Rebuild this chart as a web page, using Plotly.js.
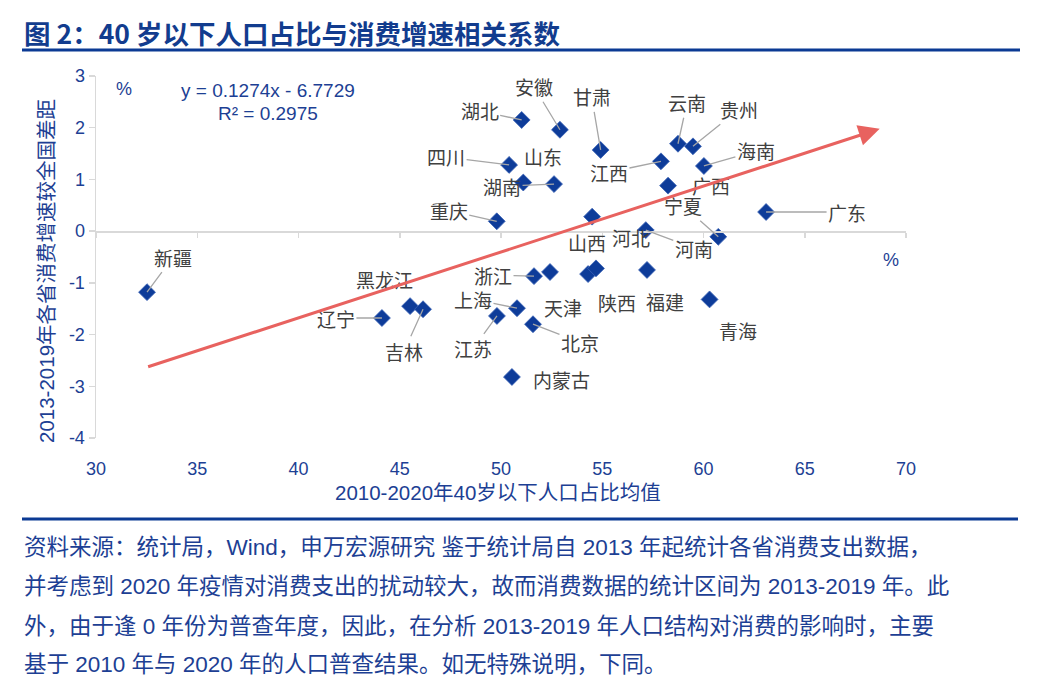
<!DOCTYPE html>
<html><head><meta charset="utf-8">
<script src="https://cdn.plot.ly/plotly-3.0.1.min.js"></script>
<style>html,body{margin:0;padding:0;background:#fff}#chart{width:1053px;height:691px}</style>
</head><body><div id="chart"></div>
<script>
// ---- data ----
const provinces = ['新疆','辽宁','黑龙江','吉林','江苏','上海','北京','内蒙古','浙江','天津','山西','陕西','福建','青海','河南','宁夏','河北','广东','广西','海南','江西','云南','贵州','甘肃','安徽','湖北','四川','山东','湖南','重庆'];
const youngShare = [32.52,44.12,45.51,46.15,49.80,50.79,51.58,50.54,51.63,52.42,54.30,54.69,57.21,60.30,57.15,60.73,54.50,63.09,58.25,60.02,57.90,58.74,59.48,54.92,52.91,51.02,50.40,51.10,52.62,49.79];
const growthGap = [-1.18,-1.68,-1.45,-1.51,-1.64,-1.49,-1.80,-2.82,-0.87,-0.79,-0.83,-0.72,-0.75,-1.32,0.02,-0.11,0.28,0.37,0.88,1.26,1.35,1.69,1.64,1.57,1.96,2.15,1.28,0.94,0.91,0.19];
const trendSlope = 0.1274;
const trendIntercept = -6.7729;
const trendXRange = [32.5, 68.7];
const equationText = 'y = 0.1274x - 6.7729';
const r2Text = 'R² = 0.2975';
const xTicks = [30,35,40,45,50,55,60,65,70];
const yTicks = [-4,-3,-2,-1,0,1,2,3];
const titleText = '图 2：40 岁以下人口占比与消费增速相关系数';
const xTitle = '2010-2020年40岁以下人口占比均值';
const yTitle = '2013-2019年各省消费增速较全国差距';
const footerLines = [
  '资料来源：统计局，Wind，申万宏源研究 鉴于统计局自 2013 年起统计各省消费支出数据，',
  '并考虑到 2020 年疫情对消费支出的扰动较大，故而消费数据的统计区间为 2013-2019 年。此',
  '外，由于逢 0 年份为普查年度，因此，在分析 2013-2019 年人口结构对消费的影响时，主要',
  '基于 2010 年与 2020 年的人口普查结果。如无特殊说明，下同。'
];

// ---- label placement (pixel offsets, leader line flag) ----
const labelPlace = {
  '新疆':[26,-35,1],'辽宁':[-46,0,1],'黑龙江':[-26,-27,0],'吉林':[-19,42,1],'江苏':[-24,33,1],
  '上海':[-44,-9,1],'北京':[47,18,1],'内蒙古':[50,3,0],'浙江':[-41,-1,1],'天津':[13,35,0],
  '山西':[-1,-32,0],'陕西':[21,34,0],'福建':[18,32,0],'青海':[28,31,0],'河南':[48,18,1],
  '宁夏':[-35,-31,1],'河北':[39,21,0],'广东':[81,0,1],'广西':[43,0,0],'海南':[52,-15,1],
  '江西':[-52,11,1],'云南':[9,-41,1],'贵州':[46,-37,1],'甘肃':[-9,-53,1],'安徽':[-26,-43,1],
  '湖北':[-42,-9,1],'四川':[-63,-8,1],'山东':[20,-26,0],'湖南':[-52,2,1],'重庆':[-48,-11,1]
};

const BLUE = '#1D3F94';
const LAT = '"Liberation Sans", Arial, "Noto Sans CJK SC", sans-serif';
const CJK = '"Noto Sans CJK SC", "Liberation Sans", sans-serif';

// plot area in pixels: left 96, right 906, top 76, bottom 438
const L=96, R=906, T=76, B=438;
const px = x => (x - L)/(R - L);
const py = y => (B - y)/(B - T);

const traces = [
  {type:'scatter', mode:'markers', x:youngShare, y:growthGap, text:provinces,
   marker:{symbol:'diamond', size:13, color:'#0E3C99', line:{width:0.8, color:'#3A62B5'}},
   hoverinfo:'text+x+y', showlegend:false},
  {type:'scatter', mode:'markers', x:[], y:[], xaxis:'x2', yaxis:'y', showlegend:false, hoverinfo:'skip'}
];

const annotations = [];
provinces.forEach((p,i)=>{
  const pl = labelPlace[p];
  annotations.push({x:youngShare[i], y:growthGap[i], xref:'x', yref:'y', text:p,
    showarrow:true, ax:pl[0], ay:pl[1], arrowhead:0, arrowwidth:1.3,
    arrowcolor: pl[2] ? '#A6A6A6' : 'rgba(0,0,0,0)',
    font:{family:CJK, size:19, color:'#404040'}});
});
// trend arrow
annotations.push({x:trendXRange[1], y:trendSlope*trendXRange[1]+trendIntercept,
  ax:trendXRange[0], ay:trendSlope*trendXRange[0]+trendIntercept,
  xref:'x', yref:'y', axref:'x', ayref:'y', text:'', showarrow:true,
  arrowhead:2, arrowsize:1.4, arrowwidth:3, arrowcolor:'#E8625F'});
annotations.push({xref:'paper', yref:'paper', x:px(268), y:py(91), text:equationText, showarrow:false,
  font:{family:LAT, size:19, color:BLUE}, xanchor:'center', yanchor:'middle'});
annotations.push({xref:'paper', yref:'paper', x:px(268), y:py(113), text:r2Text, showarrow:false,
  font:{family:LAT, size:19, color:BLUE}, xanchor:'center', yanchor:'middle'});
annotations.push({xref:'paper', yref:'paper', x:px(124), y:py(89), text:'%', showarrow:false,
  font:{family:LAT, size:18, color:BLUE}, xanchor:'center', yanchor:'middle'});
annotations.push({xref:'paper', yref:'paper', x:px(891), y:py(260), text:'%', showarrow:false,
  font:{family:LAT, size:18, color:BLUE}, xanchor:'center', yanchor:'middle'});
annotations.push({xref:'paper', yref:'paper', x:px(498), y:py(493), text:xTitle, showarrow:false,
  font:{family:LAT, size:20.5, color:BLUE}, xanchor:'center', yanchor:'middle'});
annotations.push({xref:'paper', yref:'paper', x:px(46), y:py(271), text:yTitle, showarrow:false, textangle:-90,
  font:{family:LAT, size:20.5, color:BLUE}, xanchor:'center', yanchor:'middle'});
annotations.push({xref:'paper', yref:'paper', x:px(22), y:py(32), text:'<b>'+titleText+'</b>', showarrow:false,
  font:{family:CJK, size:26.5, color:'#123C8E'}, xanchor:'left', yanchor:'middle'});
const footY = [547, 586, 626, 664];
footerLines.forEach((t,i)=>{
  annotations.push({xref:'paper', yref:'paper', x:px(22), y:py(footY[i]), text:t, showarrow:false,
    font:{family:LAT, size:22.5, color:BLUE}, xanchor:'left', yanchor:'middle'});
});

const shapes = [
  {type:'line', xref:'paper', yref:'paper', x0:px(22), x1:px(1020), y0:py(50), y1:py(50), line:{color:'#0B3A94', width:3}},
  {type:'line', xref:'paper', yref:'paper', x0:px(22), x1:px(1018), y0:py(519), y1:py(519), line:{color:'#0B3A94', width:3}}
];

const layout = {
  width:1053, height:691,
  margin:{l:L, r:1053-R, t:T, b:691-B},
  paper_bgcolor:'#fff', plot_bgcolor:'#fff',
  showlegend:false,
  xaxis:{range:[30,70], tickvals:xTicks, ticktext:xTicks.map(String), showgrid:false, zeroline:false,
    showline:false, ticks:'outside', ticklen:14, tickcolor:'rgba(0,0,0,0)',
    tickfont:{family:LAT, size:18, color:BLUE}, fixedrange:true},
  xaxis2:{range:[30,70], overlaying:'x', anchor:'free', position:(0-(-4))/7, side:'bottom',
    tickvals:xTicks, showticklabels:false, showgrid:false, zeroline:false,
    showline:true, linecolor:'#D9D9D9', linewidth:1.5, ticks:'outside', ticklen:5, tickcolor:'#D9D9D9', tickwidth:1.5},
  yaxis:{range:[-4,3], tickvals:yTicks, ticktext:yTicks.map(String), showgrid:false, zeroline:false,
    showline:true, linecolor:'#D9D9D9', linewidth:1.5, ticks:'outside', ticklen:6, tickcolor:'#D9D9D9', tickwidth:1.5,
    tickfont:{family:LAT, size:18, color:BLUE}},
  annotations:annotations,
  shapes:shapes
};

Plotly.newPlot('chart', traces, layout, {displayModeBar:false, staticPlot:true});
</script>
</body></html>
